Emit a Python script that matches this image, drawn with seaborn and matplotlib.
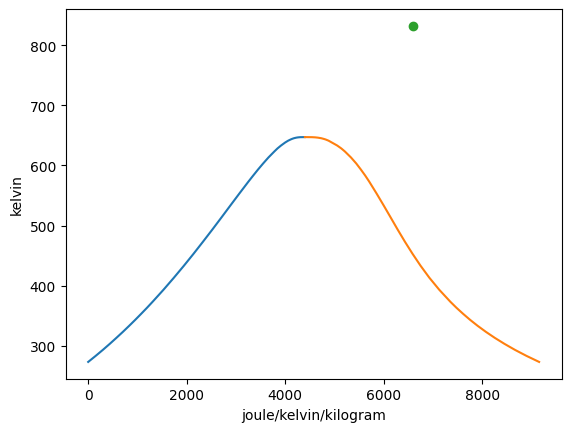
import numpy as np
import matplotlib
matplotlib.use("Agg")
import matplotlib.pyplot as plt
import seaborn as sns

# Saturation temperatures (K)
temperature = [273.16, 283.15, 293.15, 303.15, 313.15, 323.15, 333.15, 343.15,
               353.15, 363.15, 373.15, 393.15, 413.15, 433.15, 453.15, 473.15,
               493.15, 513.15, 533.15, 553.15, 573.15, 583.15, 593.15, 603.15,
               613.15, 623.15, 628.15, 633.15, 638.15, 641.15, 643.15, 644.15,
               645.15, 646.15, 646.65, 646.95, 647.10]

# Saturated liquid entropy (J/K/kg)
s_liquid = [0, 151, 297, 437, 572, 704, 831, 955,
            1075, 1193, 1307, 1528, 1739, 1943, 2140, 2331,
            2519, 2703, 2885, 3068, 3254, 3350, 3448, 3551,
            3659, 3779, 3842, 3916, 4000, 4060, 4111, 4140,
            4174, 4224, 4262, 4305, 4400]

# Saturated vapour entropy (J/K/kg)
s_vapor = [9155, 8900, 8666, 8453, 8256, 8075, 7908, 7754,
           7612, 7478, 7354, 7128, 6927, 6748, 6584, 6430,
           6284, 6143, 6001, 5856, 5705, 5624, 5536, 5443,
           5336, 5212, 5140, 5054, 4945, 4880, 4820, 4780,
           4735, 4665, 4610, 4545, 4400]

# Single state point
point_s = [6600]
point_T = [832]

fig, ax = plt.subplots(figsize=(6.4, 4.8), dpi=100)
sns.lineplot(x=s_liquid, y=temperature, estimator=None, sort=False, color="C0", ax=ax)
sns.lineplot(x=s_vapor, y=temperature, estimator=None, sort=False, color="C1", ax=ax)
ax.plot(point_s, point_T, "o", color="C2")
ax.set_xlabel("joule/kelvin/kilogram")
ax.set_ylabel("kelvin")
fig.savefig("out.png", bbox_inches="tight")
